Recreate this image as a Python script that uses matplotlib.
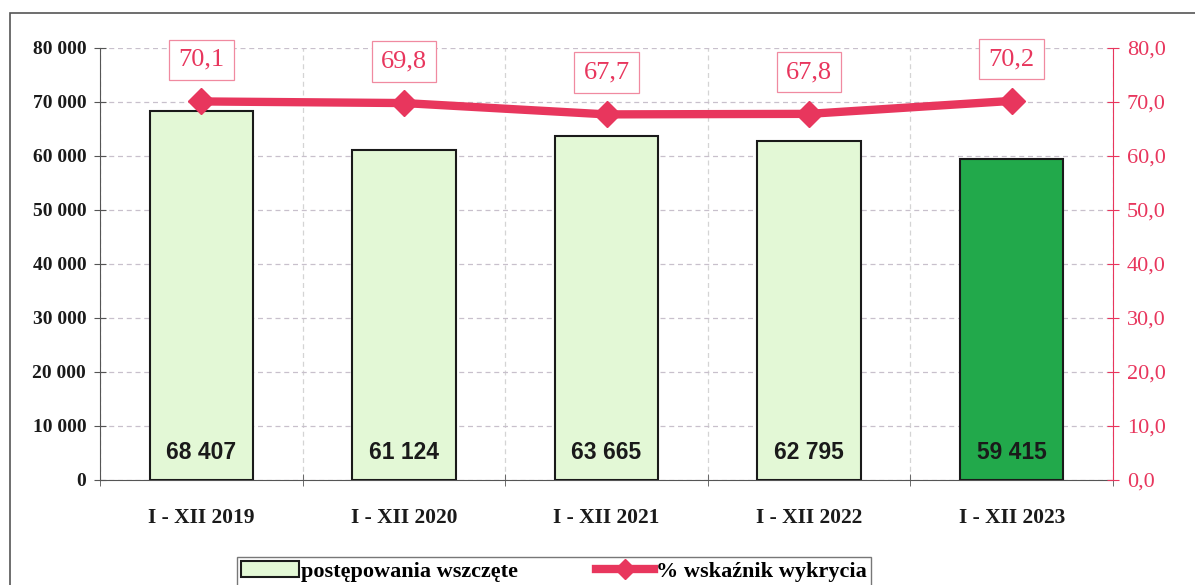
import matplotlib.pyplot as plt
from matplotlib.patches import Rectangle
from matplotlib.lines import Line2D
from matplotlib.ticker import FuncFormatter, MultipleLocator

# data
years = ['I - XII 2019', 'I - XII 2020', 'I - XII 2021', 'I - XII 2022', 'I - XII 2023']
cases = [68407, 61124, 63665, 62795, 59415]
rate = [70.1, 69.8, 67.7, 67.8, 70.2]

red = '#E8365D'
light = '#E3F8D6'
dark = '#22A94B'

fig = plt.figure(figsize=(11.95, 5.85), dpi=100)
ax = fig.add_axes([0.0837, 0.1795, 0.8477, 0.7385])

# outer frame
fig.patches.append(Rectangle((10 / 1195, -0.1), 1.2, 0.1 + (1 - 13 / 585),
                             transform=fig.transFigure, fill=False,
                             edgecolor='#555555', linewidth=1.2, zorder=0))

x = list(range(len(years)))
colors = [light] * 4 + [dark]
ax.bar(x, cases, width=0.51, color=colors, edgecolor='#1a1a1a', linewidth=1.5, zorder=3)

for i, v in enumerate(cases):
    s = f'{v:,}'.replace(',', ' ')
    ax.text(i, 5000, s, ha='center', va='center', fontsize=16.5, fontweight='bold',
            family='Liberation Sans', color='#1a1a1a', zorder=4)

ax.set_xlim(-0.5, 4.5)
ax.set_ylim(0, 80000)
ax.yaxis.set_major_locator(MultipleLocator(10000))
ax.yaxis.set_major_formatter(FuncFormatter(lambda v, p: f'{int(v):,}'.replace(',', ' ')))
ax.set_xticks(x)
ax.set_xticklabels(years)
ax.set_xticks([i + 0.5 for i in range(-1, 5)], minor=True)
ax.tick_params(axis='x', which='major', length=0, pad=20)
ax.tick_params(axis='x', which='minor', length=8, direction='inout', color='#555555')
ax.tick_params(axis='y', length=8, direction='inout', color='#555555', pad=6)
for lab in ax.get_yticklabels():
    lab.set_family('Liberation Serif')
    lab.set_fontweight('bold')
    lab.set_fontsize(14)
    lab.set_color('#1a1a1a')
for lab in ax.get_xticklabels():
    lab.set_family('Liberation Serif')
    lab.set_fontweight('bold')
    lab.set_fontsize(15.5)
    lab.set_color('#1a1a1a')

ax.grid(axis='y', which='major', linestyle=(0, (4, 3)), color='#c8c0cc', linewidth=0.9, zorder=0)
ax.grid(axis='x', which='minor', linestyle=(0, (4, 3)), color='#d4d4d4', linewidth=0.9, zorder=0)
ax.spines['top'].set_visible(False)
ax.spines['right'].set_visible(False)
ax.spines['left'].set_color('#555555')
ax.spines['bottom'].set_color('#555555')

ax2 = ax.twinx()
ax2.set_ylim(0, 80)
ax2.yaxis.set_major_locator(MultipleLocator(10))
ax2.yaxis.set_major_formatter(FuncFormatter(lambda v, p: f'{v:.1f}'.replace('.', ',')))
ax2.plot(x, rate, color=red, linewidth=6, marker='D', markersize=13, zorder=5)
for i, v in enumerate(rate):
    ax2.annotate(f'{v:.1f}'.replace('.', ','), (i, v), xytext=(0, 30),
                 textcoords='offset points', ha='center', va='center',
                 fontsize=19, family='Liberation Serif', color=red,
                 bbox=dict(boxstyle='square,pad=0.35', fc='white', ec='#f08aa0', lw=0.9))
ax2.tick_params(axis='y', length=8, direction='inout', color=red, labelcolor=red, pad=6)
for lab in ax2.get_yticklabels():
    lab.set_family('Liberation Serif')
    lab.set_fontsize(16)
for s in ['top', 'left', 'bottom']:
    ax2.spines[s].set_visible(False)
ax2.spines['right'].set_color(red)

handles = [Rectangle((0, 0), 1, 1, fc=light, ec='#1a1a1a', lw=1.5),
           Line2D([], [], color=red, lw=6, marker='D', markersize=10)]
leg = fig.legend(handles, ['postępowania wszczęte', '% wskaźnik wykrycia'],
                 loc='upper left', bbox_to_anchor=(237 / 1195, 1 - 557 / 585),
                 ncol=2, frameon=True, fancybox=False, edgecolor='#555555',
                 prop={'family': 'Liberation Serif', 'weight': 'bold', 'size': 16},
                 handlelength=2.6, handletextpad=0.1, columnspacing=3.5, borderpad=0.2,
                 borderaxespad=0)
leg.get_frame().set_linewidth(1.0)

fig.savefig('out.png', dpi=100)
